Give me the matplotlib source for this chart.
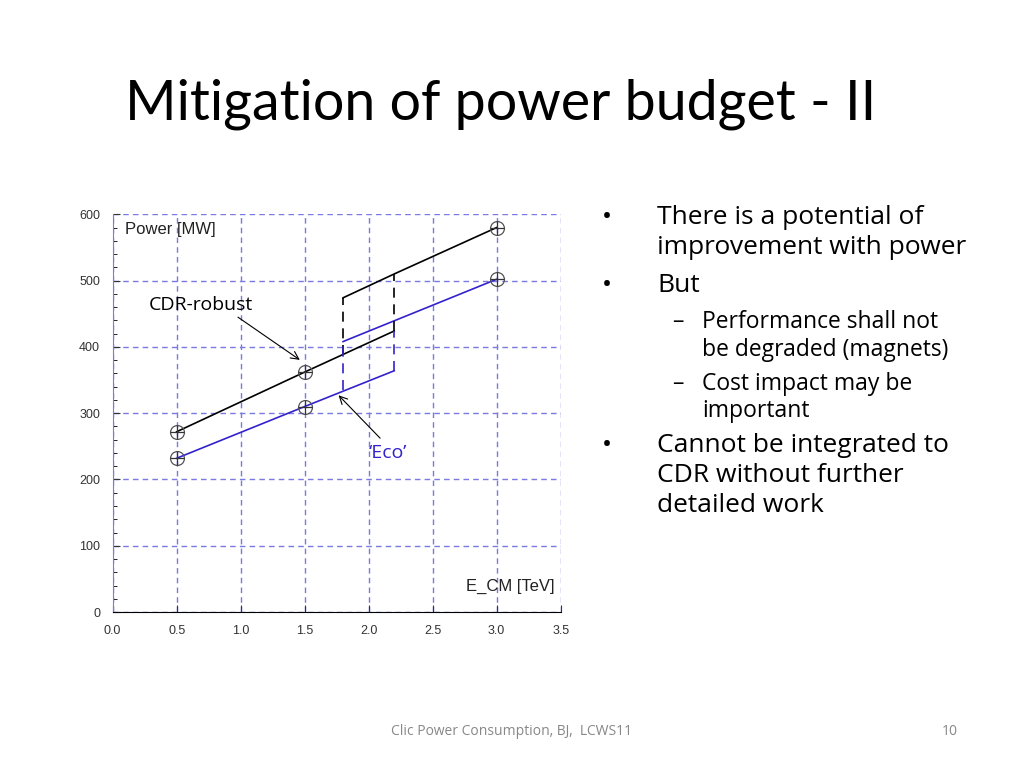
import matplotlib
matplotlib.use("Agg")
import matplotlib.pyplot as plt
from matplotlib.ticker import MultipleLocator

# CDR-robust (black) and 'Eco' (blue) power vs E_CM
cdr_x1 = [0.5, 1.5, 2.2]
cdr_y1 = [272, 362, 424]
cdr_x2 = [1.8, 2.2, 3.0]
cdr_y2 = [474, 510, 580]
eco_x1 = [0.5, 1.5, 2.2]
eco_y1 = [232, 310, 364]
eco_x2 = [1.8, 3.0]
eco_y2 = [408, 502]
pts_x = [0.5, 1.5, 3.0]
cdr_pts = [272, 362, 580]
eco_pts = [232, 310, 502]
# dashed verticals (x, y_low, y_high)
cdr_jumps = [(1.8, 388, 474), (2.2, 424, 510)]
eco_jumps = [(1.8, 335, 408), (2.2, 364, 424)]

fig = plt.figure(figsize=(10.24, 7.68), dpi=100)
fig.patch.set_facecolor("white")
fig.text(0.122, 0.845, "Mitigation of power budget - II", fontsize=40, family="Lato")

ax = fig.add_axes([0.110, 0.203, 0.4375, 0.518])
blue = "#3322cc"
ax.plot(cdr_x1, cdr_y1, color="black", lw=1.2)
ax.plot(cdr_x2, cdr_y2, color="black", lw=1.2)
ax.plot(eco_x1, eco_y1, color=blue, lw=1.2)
ax.plot(eco_x2, eco_y2, color=blue, lw=1.2)
for x, lo, hi in cdr_jumps:
    ax.plot([x, x], [lo, hi], color="black", lw=1.2, ls=(0, (6, 4)))
for x, lo, hi in eco_jumps:
    ax.plot([x, x], [lo, hi], color=blue, lw=1.2, ls=(0, (6, 4)))
for ys in (cdr_pts, eco_pts):
    ax.plot(pts_x, ys, ls="none", marker="o", ms=10, mfc="none", mec="#555555", mew=0.9)
    ax.plot(pts_x, ys, ls="none", marker="+", ms=10, color="#333333", mew=0.9)

ax.set_xlim(0, 3.5)
ax.set_ylim(0, 600)
ax.xaxis.set_major_locator(MultipleLocator(0.5))
ax.yaxis.set_major_locator(MultipleLocator(100))
ax.yaxis.set_minor_locator(MultipleLocator(20))
ax.grid(True, which="major", color="#7a7ae0", ls=(0, (4, 3)), lw=1)
for s in ("top", "right"):
    ax.spines[s].set_visible(False)
ax.spines["left"].set_color("#7a7ae0")
ax.tick_params(labelsize=9, length=5, direction="in", colors="#333333", pad=9)
ax.tick_params(which="minor", length=3, direction="in")
for lab in ax.get_xticklabels() + ax.get_yticklabels():
    lab.set_family("Liberation Sans")

ax.text(0.1, 570, "Power [MW]", fontsize=12, family="Liberation Sans", color="#222222")
ax.text(3.45, 32, "E_CM [TeV]", fontsize=12, family="Liberation Sans", ha="right", color="#222222")
ax.annotate("CDR-robust", xy=(1.48, 378), xytext=(0.28, 455), fontsize=14, family="Open Sans",
            arrowprops=dict(arrowstyle="->", color="black", lw=0.8, shrinkA=0, relpos=(0.82, 0)))
ax.annotate("\u2018Eco\u2019", xy=(1.75, 330), xytext=(2.15, 233), fontsize=14, family="Open Sans",
            color=blue, ha="center",
            arrowprops=dict(arrowstyle="->", color="black", lw=0.8, shrinkA=0, relpos=(0.3, 1.3)))

# (bullet x, text x, top pixel, text, font size)
bullets = [
    (602, 657, 205, "\u2022", "There is a potential of", 19),
    (None, 657, 235, "", "improvement with power", 19),
    (602, 657, 273, "\u2022", "But", 19),
    (672, 702, 310, "\u2013", "Performance shall not", 16.5),
    (None, 702, 338, "", "be degraded (magnets)", 16.5),
    (672, 702, 372, "\u2013", "Cost impact may be", 16.5),
    (None, 702, 399, "", "important", 16.5),
    (602, 657, 433, "\u2022", "Cannot be integrated to", 19),
    (None, 657, 463, "", "CDR without further", 19),
    (None, 657, 493, "", "detailed work", 19),
]
for bx, tx, py, sym, txt, fs in bullets:
    y = 1 - py / 768
    if bx is not None:
        fig.text(bx / 1024, y, sym, fontsize=fs, family="Open Sans", va="top")
    fig.text(tx / 1024, y, txt, fontsize=fs, family="Open Sans", va="top")

fig.text(0.5, 0.043, "Clic Power Consumption, BJ,  LCWS11", fontsize=10, family="Open Sans",
         ha="center", color="#888888")
fig.text(0.92, 0.043, "10", fontsize=10, family="Open Sans", color="#888888")

fig.savefig("out.png", dpi=100)
